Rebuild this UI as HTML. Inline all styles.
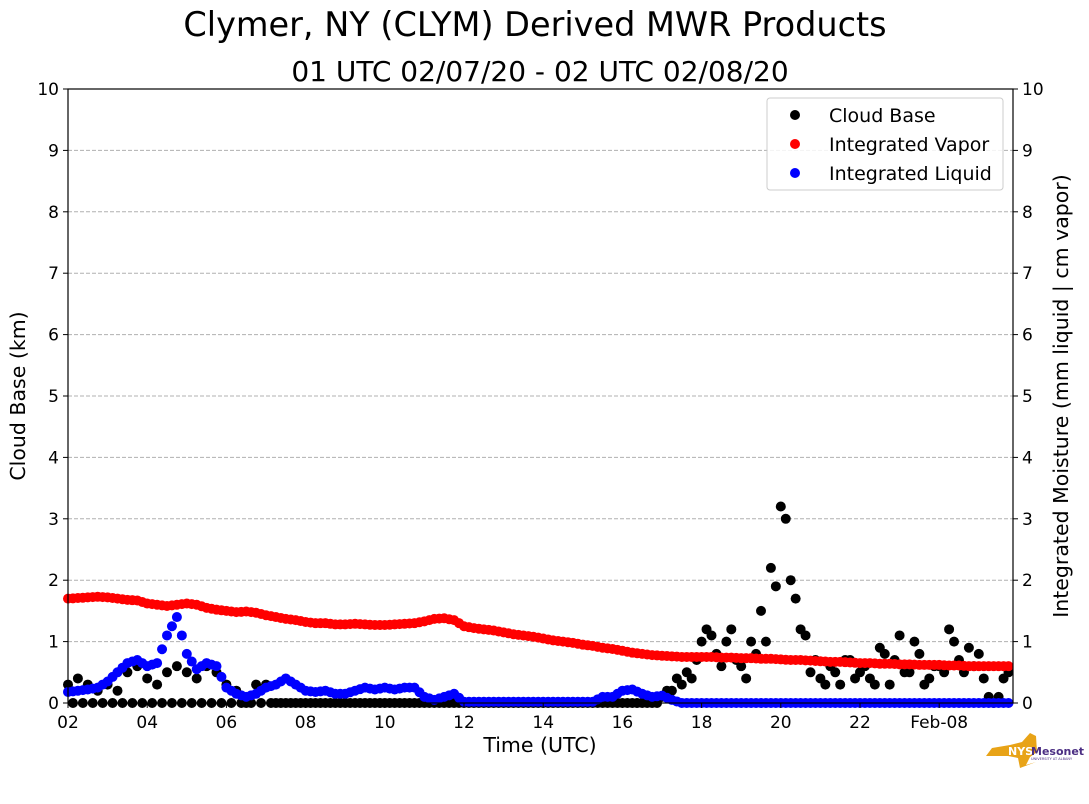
<!DOCTYPE html>
<html><head><meta charset="utf-8"><style>
body{margin:0;background:#fff;font-family:"DejaVu Sans",sans-serif;}
svg{display:block}
</style></head><body>
<svg id="c" width="1089" height="804" xmlns="http://www.w3.org/2000/svg" font-family="DejaVu Sans, sans-serif">
<text x="535" y="36" font-size="33.5" text-anchor="middle">Clymer, NY (CLYM) Derived MWR Products</text>
<text x="540" y="81" font-size="28" text-anchor="middle">01 UTC 02/07/20 - 02 UTC 02/08/20</text>
<g id="grid"></g>
<g id="marks"></g>
<rect x="68" y="89" width="945" height="614" fill="none" stroke="#000" stroke-width="1.2"/>
<g id="axes"></g>
<text transform="translate(25,396) rotate(-90)" font-size="20.5" text-anchor="middle">Cloud Base (km)</text>
<text transform="translate(1068,396) rotate(-90)" font-size="20.5" text-anchor="middle">Integrated Moisture (mm liquid | cm vapor)</text>
<text x="540" y="752" font-size="20.5" text-anchor="middle">Time (UTC)</text>
<g>
<rect x="767" y="98" width="236" height="92" rx="3" fill="#fff" fill-opacity="0.85" stroke="#ccc"/>
<circle cx="795" cy="115" r="5" fill="#000"/>
<text x="829" y="122" font-size="19">Cloud Base</text>
<circle cx="795" cy="144" r="5" fill="#f00"/>
<text x="829" y="151" font-size="19">Integrated Vapor</text>
<circle cx="795" cy="173" r="5" fill="#00f"/>
<text x="829" y="180" font-size="19">Integrated Liquid</text>
</g>
<g>
<path d="M1010,745 L1022,742 L1030,733 L1036,736 L1037,752 L1030,757 L1026,765 L1036,762 L1020,768 L1018,758 L1008,756 L986,756 L992,748 Z" fill="#e8a317"/>
<text x="1008" y="755" font-size="11" font-weight="bold" fill="#fff">NYS</text>
<text x="1031" y="755" font-size="11" font-weight="bold" fill="#4b2e83">Mesonet</text>
<text x="1031" y="760" font-size="3.5" fill="#4b2e83">UNIVERSITY AT ALBANY</text>
</g>
</svg>
<script>
const xTickLabels=["02","04","06","08","10","12","14","16","18","20","22","Feb-08"];
const xTickHours=[2,4,6,8,10,12,14,16,18,20,22,24];
const yTicks=[0,1,2,3,4,5,6,7,8,9,10];
const startHour=2, stepHours=0.25;
const vapor=[1.70,1.71,1.72,1.73,1.72,1.70,1.68,1.67,1.62,1.60,1.58,1.60,1.62,1.60,1.55,1.52,1.50,1.48,1.49,1.47,1.43,1.40,1.37,1.35,1.32,1.30,1.30,1.28,1.28,1.29,1.28,1.27,1.27,1.28,1.29,1.30,1.33,1.37,1.38,1.35,1.25,1.22,1.20,1.18,1.15,1.12,1.10,1.08,1.05,1.02,1.00,0.98,0.95,0.93,0.90,0.88,0.85,0.82,0.80,0.78,0.77,0.76,0.75,0.75,0.75,0.75,0.74,0.74,0.73,0.73,0.72,0.72,0.71,0.70,0.70,0.69,0.68,0.67,0.67,0.66,0.65,0.65,0.64,0.64,0.63,0.63,0.62,0.62,0.62,0.61,0.61,0.60,0.60,0.60,0.60,0.60];
const liquid=[0.18,0.20,0.22,0.25, 0.35,0.50,0.65,0.70, 0.60,0.65,1.10,1.40, 0.80,0.55,0.65,0.60, 0.25,0.15,0.10,0.15, 0.25,0.30,0.40,0.30, 0.20,0.18,0.20,0.15, 0.15,0.20,0.25,0.22, 0.25,0.22,0.25,0.25, 0.10,0.05,0.10,0.15, 0.02,0.02,0.02,0.02, 0.02,0.02,0.02,0.02, 0.02,0.02,0.02,0.02, 0.02,0.02,0.10,0.10, 0.20,0.22,0.15,0.10, 0.12,0.05,0,0, 0,0,0,0, 0,0,0,0, 0,0,0,0, 0,0,0,0, 0,0,0,0, 0,0,0,0, 0,0,0,0, 0,0,0,0];
const cloud=[0.3,0.4,0.3,0.2, 0.3,0.2,0.5,0.6, 0.4,0.3,0.5,0.6, 0.5,0.4,0.6,0.5, 0.3,0.2,0,0.3, 0.3,0,0,0, 0,0,0,0, 0,0,0,0, 0,0,0,0, 0,0,0,0, 0,0,0,0, 0,0,0,0, 0,0,0,0, 0,0,0,0, 0,0,0,0, 0.1,0.2,0.3,0.4, 1.0,1.1,0.6,1.2, 0.6,1.0,1.5,2.2, 3.2,2.0,1.2,0.5, 0.4,0.6,0.3,0.7, 0.5,0.4,0.9,0.3, 1.1,0.5,0.8,0.4, 0.6,1.2,0.7,0.9, 0.8,0.1,0.1,0.5];
const cloud2=[0,0,0,0, 0,0,0,0, 0,0,0,0, 0,0,0,0, 0,0,0,0, 0,0,0,0, 0,0,0,0, 0,0,0,0, 0,0,0,0, 0,0,0,0, 0,0,0,0, 0,0,0,0, 0,0,0,0, 0,0,0,0, 0,0,0,0, 0.2,0.4,0.5,0.7, 1.2,0.8,1.0,0.7, 0.4,0.8,1.0,1.9, 3.0,1.7,1.1,0.7, 0.3,0.5,0.7,0.4, 0.6,0.3,0.8,0.7, 0.5,1.0,0.3,0.6, 0.5,1.0,0.5,0.6, 0.4,0.0,0.4,0.4];
const NS="http://www.w3.org/2000/svg";
const x0=68,x1=1013,y0=703,y1=89;
const xs=h=>x0+(h-2)*39.6;
const ys=v=>y0-(v/10)*(y0-y1);
function el(t,a,p){const e=document.createElementNS(NS,t);for(const k in a)e.setAttribute(k,a[k]);p.appendChild(e);return e;}
const grid=document.getElementById('grid'),axes=document.getElementById('axes'),marks=document.getElementById('marks');
yTicks.forEach(v=>{
  if(v>0&&v<10){const g=el('line',{x1:x0,x2:x1,y1:ys(v),y2:ys(v),stroke:'#b0b0b0','stroke-dasharray':'4,2'},grid);
  
  }
  el('line',{x1:x0-5,x2:x0,y1:ys(v),y2:ys(v),stroke:'#000'},axes);
  el('line',{x1:x1,x2:x1+5,y1:ys(v),y2:ys(v),stroke:'#000'},axes);
  const l=el('text',{x:x0-9,y:ys(v)+6,'font-size':17,'text-anchor':'end'},axes);l.textContent=v;
  
  
  const r=el('text',{x:x1+9,y:ys(v)+6,'font-size':17},axes);r.textContent=v;
  
  
});
xTickHours.forEach((h,i)=>{
  el('line',{x1:xs(h),x2:xs(h),y1:y0,y2:y0+5,stroke:'#000'},axes);
  const t=el('text',{x:xs(h),y:y0+25,'font-size':17,'text-anchor':'middle'},axes);t.textContent=xTickLabels[i];
  
  
});
function dots(arr,off,color,name){arr.forEach((v,i)=>{
  if(v===null)return;const h=startHour+off+i*stepHours;if(xs(h)>x1)return;
  const c=el('circle',{cx:xs(h),cy:ys(v),r:5,fill:color},marks);
  
  
  const h2=h+stepHours/2;
  if(xs(h2)<=x1&&i+1<arr.length&&color!=='#000'){
    const c2=el('circle',{cx:xs(h2),cy:ys((v+arr[i+1])/2),r:5,fill:color},marks);
    
    }
});}
dots(cloud,0,'#000','cloud-base-point');
dots(cloud2,0.125,'#000','cloud-base-point');
dots(vapor,0,'#f00','vapor-point');
dots(liquid,0,'#00f','liquid-point');
</script>
</body></html>
